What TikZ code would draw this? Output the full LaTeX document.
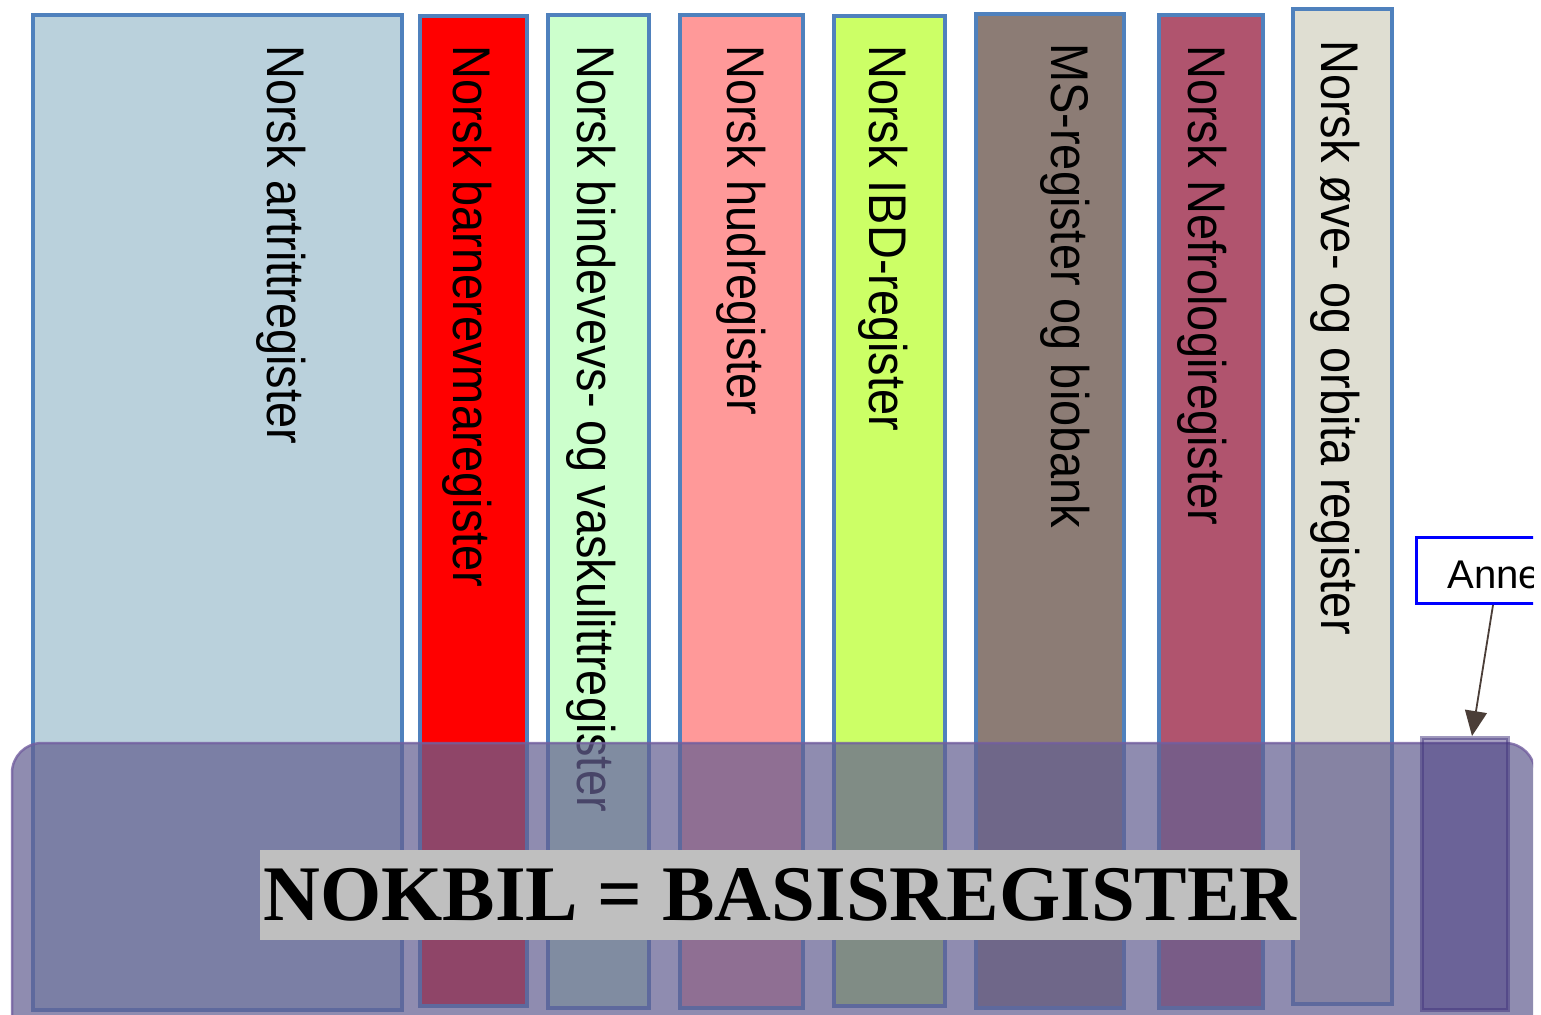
\documentclass[tikz,border=0pt]{standalone}
\usepackage{fontspec}
\usepackage{graphicx}
\setmainfont{Liberation Sans}
\newfontfamily\titlefont{Liberation Serif}
\usetikzlibrary{arrows.meta,calc}
\newdimen\pxu \pxu=0.02cm
\newcommand\regname[1]{\scalebox{1}[1.13]{#1}}
\definecolor{barblue}{RGB}{79,129,189}
\definecolor{artritt}{RGB}{186,209,220}
\definecolor{bindevev}{RGB}{204,255,204}
\definecolor{hud}{RGB}{255,153,153}
\definecolor{ibd}{RGB}{204,255,102}
\definecolor{ms}{RGB}{140,124,117}
\definecolor{nefro}{RGB}{176,84,110}
\definecolor{orbita}{RGB}{223,222,210}
\definecolor{basis}{RGB}{100,96,145}
\definecolor{basisline}{RGB}{115,95,160}
\definecolor{annetfill}{RGB}{64,50,123}
\definecolor{pilgrey}{RGB}{75,62,56}

\begin{document}
\begin{tikzpicture}[x=0.02cm, y=-0.02cm,
  bar/.style={draw=barblue, line width=4.5\pxu},
  regtext/.style={rotate=-90, anchor=base west, inner sep=0pt, font=\fontsize{26.7}{32}\selectfont},
  basisbox/.style={fill=basis, fill opacity=0.72, draw=basisline, draw opacity=0.8, line width=2.5\pxu},
  annetbox/.style={fill=annetfill, fill opacity=0.45, draw=annetfill, draw opacity=0.5, line width=4\pxu, inner sep=0pt},
  titlebox/.style={fill=black!25, inner sep=0pt, font=\titlefont\bfseries\fontsize{44.8}{50}\selectfont},
  notebox/.style={draw=blue, fill=white, line width=3\pxu, inner xsep=31\pxu, inner ysep=0pt, align=left, font=\fontsize{22.8}{27}\selectfont}]
\useasboundingbox (0,0) rectangle (1541,1014);
\clip (0,0) rectangle (1533,1014);
\draw[bar, fill=artritt] (33,15) rectangle (402,1010);
\draw[bar, fill=red] (420,16) rectangle (527,1006);
\draw[bar, fill=bindevev] (548,15) rectangle (649,1008);
\draw[bar, fill=hud] (680,15) rectangle (803,1008);
\draw[bar, fill=ibd] (834,16) rectangle (945,1006);
\draw[bar, fill=ms] (976,14) rectangle (1124,1008);
\draw[bar, fill=nefro] (1159,15) rectangle (1263,1008);
\draw[bar, fill=orbita] (1293,9) rectangle (1392,1004);
\node[regtext] (artritt) at (267,45) {\regname{Norsk artrittregister}};
\node[regtext] (barnerevma) at (453,45) {\regname{Norsk barnerevmaregister}};
\node[regtext] (bindevev) at (577,45) {\regname{Norsk bindevevs- og vaskulittregister}};
\node[regtext] (hud) at (727,45) {\regname{Norsk hudregister}};
\node[regtext] (ibd) at (869,45) {\regname{Norsk IBD-register}};
\node[regtext] (ms) at (1051,43) {\regname{MS-register og biobank}};
\node[regtext] (nefro) at (1188,45) {\regname{Norsk Nefrologiregister}};
\node[regtext] (orbita) at (1321,40) {\regname{Norsk øve- og orbita register}};
\draw[basisbox, rounded corners=30\pxu] (12,743) rectangle (1535,1060);
\node[annetbox, minimum width=86\pxu, minimum height=272\pxu] (annet) at (1465,874) {};
\node[titlebox, minimum width=1040\pxu, minimum height=90\pxu] (nokbil) at (780,895) {NOKBIL = BASISREGISTER};
\node[notebox, anchor=north west, text width=140\pxu, minimum height=66.5\pxu, text height=36.5\pxu, text depth=0pt] (anne) at (1415,535.5) {Anne};
\draw[pilgrey, line width=1.8\pxu, -{Triangle[length=0.5cm, width=0.44cm]}] ($(anne.south west)+(78,0)$) -- ($(annet.north)+(7,0)$);
\end{tikzpicture}
\end{document}
